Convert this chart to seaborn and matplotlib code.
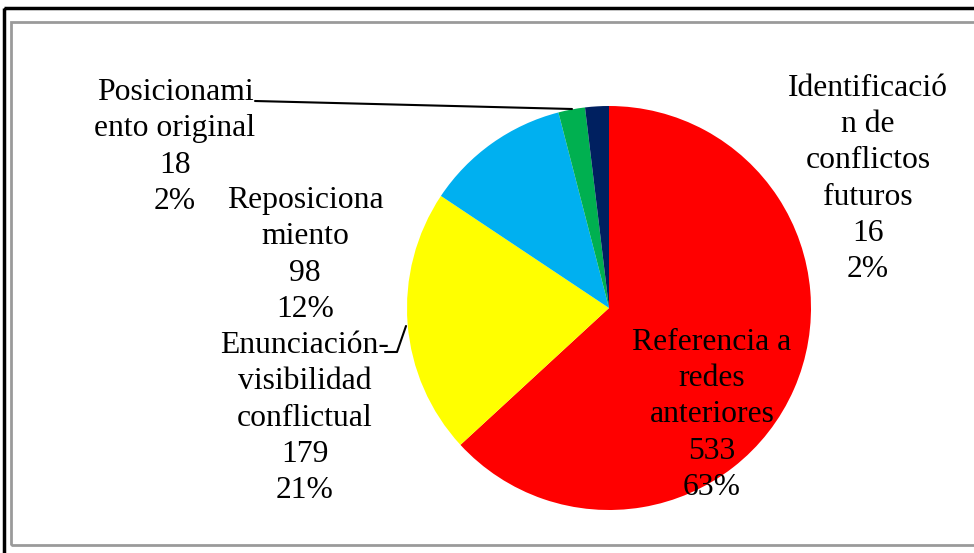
import matplotlib
matplotlib.use('Agg')
import matplotlib.pyplot as plt
import seaborn as sns
from matplotlib.patches import Rectangle

sns.set_theme(style='white')
plt.rcParams['font.family'] = ['Liberation Serif', 'DejaVu Serif']

# data, clockwise from 12 o'clock
categories = ['Referencia a\nredes\nanteriores',
              'Enunciación-\nvisibilidad\nconflictual',
              'Reposiciona\nmiento',
              'Posicionami\nento original',
              'Identificació\nn de\nconflictos\nfuturos']
counts = [533, 179, 98, 18, 16]
percents = ['63%', '21%', '12%', '2%', '2%']
colors = ['#FF0000', '#FFFF00', '#00B0F0', '#00B050', '#002060']

# label centres in pixel space (x, y from top)
label_pos = [(712, 415), (305, 418), (305, 255), (175, 147), (868, 179)]

W, H = 974, 553
fig = plt.figure(figsize=(W / 100, H / 100), dpi=100)
ax = fig.add_axes([0, 0, 1, 1])

ax.pie(counts, colors=colors, startangle=90, counterclock=False,
       center=(609, H - 308), radius=202,
       wedgeprops=dict(linewidth=0))

ax.set_xlim(0, W)
ax.set_ylim(0, H)
ax.set_aspect('equal')
ax.axis('off')

for cat, n, p, (x, y) in zip(categories, counts, percents, label_pos):
    ax.text(x, H - y, f"{cat}\n{n}\n{p}", ha='center', va='center',
            fontsize=22.8, color='black', linespacing=1.33)

# leader lines
ax.plot([255, 572], [H - 101, H - 109], color='black', lw=1.5)
ax.plot([385, 397, 406], [H - 352, H - 352, H - 326], color='black', lw=1.5)

# frames
fig.patches.append(Rectangle((11 / W, 1 - 545 / H), 1, (545 - 22) / H,
                             transform=fig.transFigure, fill=False,
                             edgecolor='#9a9a9a', lw=2))
fig.patches.append(Rectangle((4 / W, 1 - 8 / H), 1.0, -1.0,
                             transform=fig.transFigure, fill=False,
                             edgecolor='black', lw=2.5))

fig.savefig('out.png', dpi=100)
